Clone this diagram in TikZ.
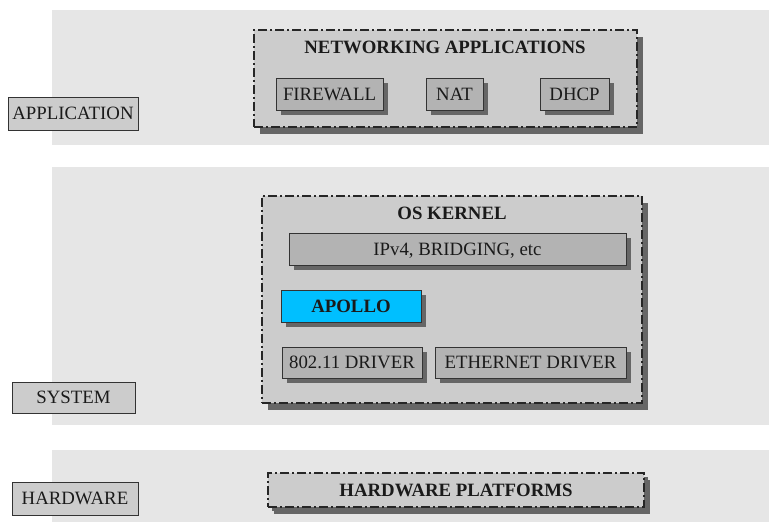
\documentclass[tikz,border=0pt]{standalone}
\usepackage{fontspec}
\setmainfont{Liberation Serif}
\usetikzlibrary{shadows}

\definecolor{bandgray}{HTML}{E6E6E6}
\definecolor{boxgray}{HTML}{CCCCCC}
\definecolor{unitgray}{HTML}{B3B3B3}
\definecolor{shadowgray}{HTML}{666666}
\definecolor{edgegray}{HTML}{333333}
\definecolor{apollocyan}{HTML}{00BFFF}
\definecolor{inkgray}{HTML}{1A1A1A}

\begin{document}
\begin{tikzpicture}[x=1pt, y=-1pt,
  every node/.style={font=\fontsize{18.8}{21}\selectfont, text=inkgray, inner sep=0pt,
    text height=13pt, text depth=1pt},
  band/.style={fill=bandgray, draw=none},
  layerlabel/.style={rectangle, draw=edgegray, fill=boxgray, line width=1pt},
  groupbox/.style={rectangle, draw=black!85, fill=boxgray, line width=1.1pt,
    dash pattern=on 9pt off 3pt on 2pt off 3pt,
    drop shadow={shadow xshift=6pt, shadow yshift=-7pt, fill=shadowgray, opacity=1}},
  unitbox/.style={rectangle, draw=edgegray, fill=unitgray, line width=1pt,
    drop shadow={shadow xshift=5pt, shadow yshift=-5pt, fill=shadowgray, opacity=1}},
  grouptitle/.style={font=\fontsize{18.8}{21}\selectfont\bfseries},
]
\useasboundingbox (0,0) rectangle (769,522);
\fill[white] (0,0) rectangle (769,522);

% layer bands
\fill[band] (52,10) rectangle (769,145);
\fill[band] (52,167) rectangle (769,425);
\fill[band] (52,450) rectangle (769,522);

% layer labels
\node[layerlabel, minimum width=130pt, minimum height=33pt] (app) at (73,113.5) {APPLICATION};
\node[layerlabel, minimum width=123pt, minimum height=31pt] (sys) at (73.5,397.5) {SYSTEM};
\node[layerlabel, minimum width=126pt, minimum height=33pt] (hw) at (75,498.5) {HARDWARE};

% networking applications
\node[groupbox, minimum width=383pt, minimum height=97pt] (netapps) at (445.5,78.5) {};
\node[grouptitle] (nettitle) at (445,47) {NETWORKING APPLICATIONS};
\node[unitbox, minimum width=107pt, minimum height=32pt] (fw) at (329.5,94) {FIREWALL};
\node[unitbox, minimum width=57pt, minimum height=32pt] (nat) at (454.5,94) {NAT};
\node[unitbox, minimum width=69pt, minimum height=32pt] (dhcp) at (574.5,94) {DHCP};

% operating system kernel
\node[groupbox, minimum width=380pt, minimum height=207pt] (kernel) at (452,299.5) {};
\node[grouptitle] (kerneltitle) at (452,213) {OS KERNEL};
\node[unitbox, minimum width=337pt, minimum height=32pt] (ipv4) at (457.5,249) {IPv4, BRIDGING, etc};
\node[unitbox, fill=apollocyan, minimum width=140pt, minimum height=32pt,
      font=\fontsize{18.8}{21}\selectfont\bfseries] (apollo) at (351,306) {APOLLO};
\node[unitbox, minimum width=140pt, minimum height=31pt] (wifi) at (352,362.5) {802.11 DRIVER};
\node[unitbox, minimum width=191pt, minimum height=31pt] (eth) at (530.5,362.5) {ETHERNET DRIVER};

% hardware platforms
\node[groupbox, minimum width=376pt, minimum height=34pt,
      drop shadow={shadow xshift=4pt, shadow yshift=-4pt, fill=shadowgray, opacity=1}] (platforms) at (456,490) {};
\node[grouptitle] (platformstitle) at (456,490) {HARDWARE PLATFORMS};
\end{tikzpicture}
\end{document}
